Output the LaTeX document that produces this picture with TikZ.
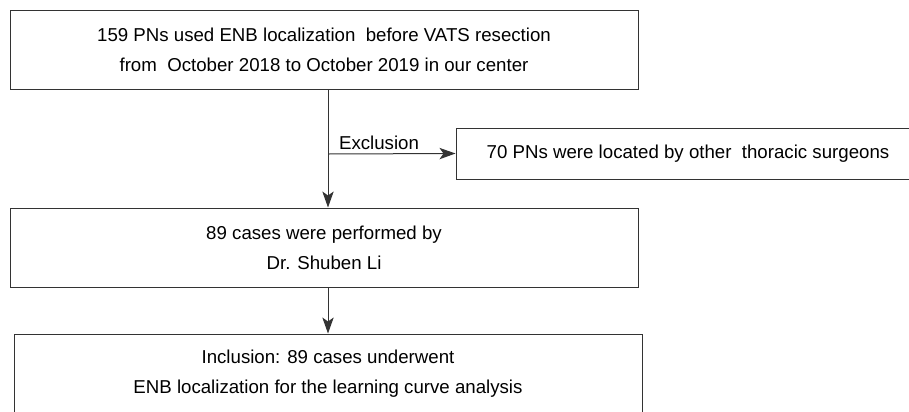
\documentclass[tikz,border=0pt]{standalone}
\usepackage{fontspec}
\setmainfont{Liberation Sans}
\usetikzlibrary{arrows.meta}
\begin{document}
\begin{tikzpicture}[
		x=0.75pt, y=-0.75pt,
		box/.style={draw=black!80, line width=0.75pt, align=center, inner sep=0pt,
				minimum width=471pt, minimum height=59.25pt,
				font=\fontsize{14}{22.5}\selectfont},
		flow/.style={draw=black!80, line width=0.75pt,
				-{Stealth[length=12pt,width=8.5pt,inset=3pt]}}
	]
	\useasboundingbox[fill=white] (0,0) rectangle (909,411);
	\node[box] (start) at (324,49.5)
	{159 PNs used ENB localization\ \ before VATS resection\\
		from\ \ October 2018 to October 2019 in our center};
	\node[box, minimum width=348pt, minimum height=38.25pt] (excl) at (688,153.5)
	{70 PNs were located by other\ \ thoracic surgeons};
	\node[box] (surgeon) at (324,247.5)
	{89 cases were performed by\\ Dr. Shuben Li};
	\node[box] (incl) at (328,373.5)
	{Inclusion: 89 cases underwent\\
		ENB localization for the learning curve analysis};
	\coordinate (split) at (328,154);
	\draw[flow] (start.south -| split) -- (surgeon.north -| split);
	\draw[flow] (split) -- node[above, font=\fontsize{14}{16}\selectfont,
			pos=0.4, inner sep=3pt] (exlabel) {Exclusion} (excl.west);
	\draw[flow] (surgeon.south -| split) -- (incl.north -| split);
\end{tikzpicture}
\end{document}
